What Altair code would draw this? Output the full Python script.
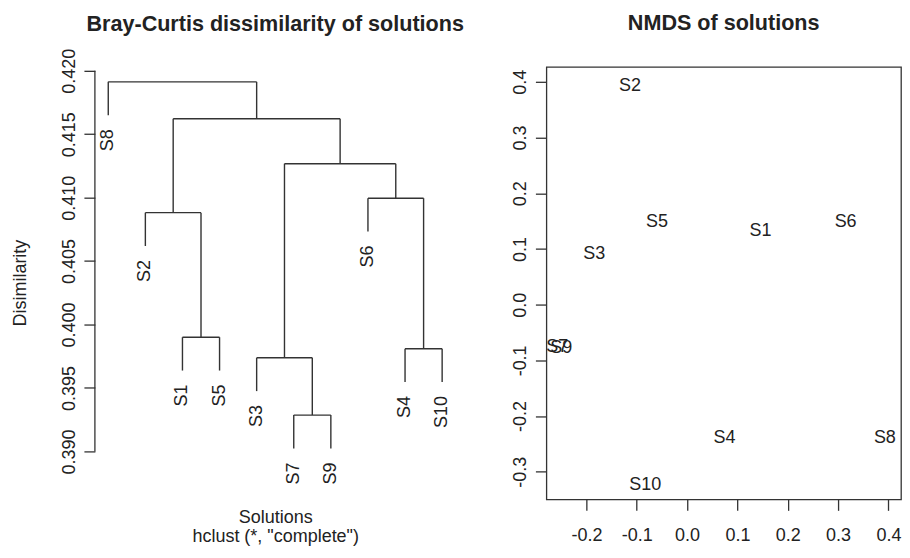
import altair as alt
import pandas as pd

FONT = "Liberation Sans"
INK = "#222222"
LINE = "#333333"

# ---- Dendrogram data (hclust, complete linkage) ----
leaf_order = ["S8", "S2", "S1", "S5", "S3", "S7", "S9", "S6", "S4", "S10"]
merge_left = ["S7", "S3", "S4", "S1", "S2", "S6", "m2", "m5", "S8"]
merge_right = ["S9", "m1", "S10", "S5", "m4", "m3", "m6", "m7", "m8"]
merge_heights = [0.39286, 0.39738, 0.39809, 0.39900, 0.40882, 0.40996, 0.41268, 0.41622, 0.41913]
hang = 0.1
dend_y_ticks = [0.390, 0.395, 0.400, 0.405, 0.410, 0.415, 0.420]

# ---- NMDS data ----
nmds_labels = ["S1", "S2", "S3", "S4", "S5", "S6", "S7", "S8", "S9", "S10"]
nmds_x = [0.146, -0.1135, -0.1846, 0.0744, -0.0596, 0.315, -0.258, 0.393, -0.250, -0.0833]
nmds_y = [0.1314, 0.3925, 0.0909, -0.239, 0.1475, 0.149, -0.0760, -0.239, -0.0780, -0.3244]
nmds_x_ticks = [-0.2, -0.1, 0.0, 0.1, 0.2, 0.3, 0.4]
nmds_y_ticks = [-0.3, -0.2, -0.1, 0.0, 0.1, 0.2, 0.3, 0.4]

# ---- dendrogram layout (as plot.hclust does it) ----
hang_len = hang * (max(merge_heights) - min(merge_heights))
xpos = {name: i + 1 for i, name in enumerate(leaf_order)}
ypos = {}
for i, (a, b) in enumerate(zip(merge_left, merge_right)):
    xpos[f"m{i+1}"] = (xpos[a] + xpos[b]) / 2
parent_h = {}
for i, (a, b) in enumerate(zip(merge_left, merge_right)):
    parent_h[a] = merge_heights[i]
    parent_h[b] = merge_heights[i]
for name in leaf_order:
    ypos[name] = parent_h[name] - hang_len
for i in range(len(merge_heights)):
    ypos[f"m{i+1}"] = merge_heights[i]

segs = []
for i, (a, b) in enumerate(zip(merge_left, merge_right)):
    h = merge_heights[i]
    segs.append({"x": xpos[a], "x2": xpos[b], "y": h, "y2": h})
    segs.append({"x": xpos[a], "x2": xpos[a], "y": ypos[a], "y2": h})
    segs.append({"x": xpos[b], "x2": xpos[b], "y": ypos[b], "y2": h})
seg_df = pd.DataFrame(segs)
leaf_df = pd.DataFrame({"x": [xpos[n] for n in leaf_order],
                        "y": [ypos[n] for n in leaf_order],
                        "label": leaf_order})
axis_line_df = pd.DataFrame({"y": [min(dend_y_ticks)], "y2": [max(dend_y_ticks)]})

n = len(leaf_order)
xdom = [1 - 0.04 * (n - 1), n + 0.04 * (n - 1)]
ydom = [0.386220, 0.420315]

xs = alt.Scale(domain=xdom, nice=False, zero=False)
ys = alt.Scale(domain=ydom, nice=False, zero=False)

x_axis_left = alt.Axis(title=["Solutions", 'hclust (*, "complete")'], labels=False, ticks=False,
                       domain=False, grid=False, titleY=9, titleBaseline="top",
                       titleFontWeight="normal", titleLineHeight=19, titleFontSize=18,
                       titleFont=FONT, titleColor=INK)
y_axis_left = alt.Axis(title="Disimilarity", values=dend_y_ticks, format=".3f", domain=False,
                       grid=False, tickSize=11, tickColor=LINE, tickWidth=1.3,
                       labelAngle=270, labelAlign="center", labelBaseline="alphabetic",
                       labelPadding=9, labelFontSize=18, labelFont=FONT, labelColor=INK,
                       labelOverlap=False, labelFlush=False,
                       titleX=-74.6, titleY=216, titleAngle=270, titleAlign="center",
                       titleBaseline="middle", titleFontWeight="normal", titleFontSize=18,
                       titleFont=FONT, titleColor=INK)

segs_chart = alt.Chart(seg_df).mark_rule(color=LINE, strokeWidth=1.4).encode(
    x=alt.X("x:Q", scale=xs, axis=x_axis_left),
    x2="x2:Q",
    y=alt.Y("y:Q", scale=ys, axis=y_axis_left),
    y2="y2:Q",
)
leaf_text = alt.Chart(leaf_df).mark_text(angle=270, align="right", baseline="middle", dx=-14,
                                         fontSize=18, font=FONT, color=INK).encode(
    x=alt.X("x:Q", scale=xs, axis=x_axis_left),
    y=alt.Y("y:Q", scale=ys, axis=y_axis_left),
    text="label:N",
)
axis_line = alt.Chart(axis_line_df).mark_rule(color=LINE, strokeWidth=1.3).encode(
    x=alt.value(0),
    y=alt.Y("y:Q", scale=ys, axis=y_axis_left),
    y2="y2:Q",
)

left = alt.layer(segs_chart, leaf_text, axis_line).properties(
    width=361, height=433,
    title=alt.TitleParams("Bray-Curtis dissimilarity of solutions", fontSize=21.6, font=FONT,
                          fontWeight="bold", color=INK, baseline="alphabetic", offset=-4),
    view=alt.ViewBackground(stroke="transparent"),
)

# ---- NMDS panel ----
nmds_df = pd.DataFrame({"x": nmds_x, "y": nmds_y, "label": nmds_labels})
lbl_expr = "datum.value < 0 ? '-' + format(-datum.value, '.1f') : format(datum.value, '.1f')"
right = alt.Chart(nmds_df).mark_text(fontSize=18, font=FONT, color=INK, baseline="middle").encode(
    x=alt.X("x:Q", scale=alt.Scale(domain=[-0.2796, 0.42505], nice=False, zero=False),
            axis=alt.Axis(title=None, values=nmds_x_ticks, labelExpr=lbl_expr, domain=False,
                          grid=False, tickSize=11, tickColor=LINE, tickWidth=1.3,
                          labelPadding=16, labelFontSize=18, labelFont=FONT, labelColor=INK,
                          labelOverlap=False, labelFlush=False)),
    y=alt.Y("y:Q", scale=alt.Scale(domain=[-0.34945, 0.42688], nice=False, zero=False),
            axis=alt.Axis(title=None, values=nmds_y_ticks, labelExpr=lbl_expr, domain=False,
                          grid=False, tickSize=11, tickColor=LINE, tickWidth=1.3,
                          labelAngle=270, labelAlign="center", labelBaseline="alphabetic",
                          labelPadding=9.5, labelFontSize=18, labelFont=FONT, labelColor=INK,
                          labelOverlap=False, labelFlush=False)),
    text="label:N",
).properties(
    width=355, height=433,
    title=alt.TitleParams("NMDS of solutions", fontSize=21.6, font=FONT, fontWeight="bold",
                          color=INK, baseline="alphabetic", offset=15),
    view=alt.ViewBackground(stroke=LINE, strokeWidth=1.3),
)

chart = alt.hconcat(left, right, spacing=91, bounds="flush").properties(
    padding={"left": 2, "top": 3.6, "right": 0, "bottom": 0},
).configure(background="white")

chart.save("out.html", embed_options={"renderer": "svg", "actions": False})
